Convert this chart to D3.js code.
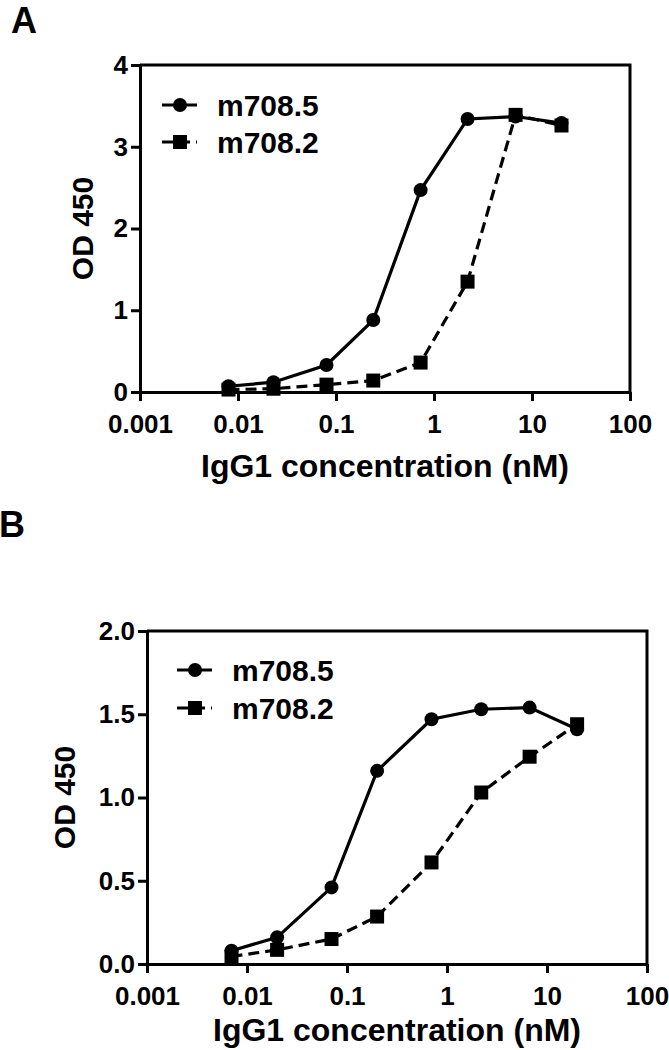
<!DOCTYPE html>
<html>
<head>
<meta charset="utf-8">
<script src="https://cdn.jsdelivr.net/npm/d3@7"></script>
<style>
  body { margin: 0; background: #fff; }
  svg { display: block; font-family: "Liberation Sans", Arial, sans-serif; font-weight: bold; }
</style>
</head>
<body>
<svg id="chart" width="669" height="1050"></svg>
<script>
// panel A
const concA = [0.008, 0.023, 0.08, 0.24, 0.73, 2.2, 6.8, 20];
const m7085A = [0.07, 0.12, 0.33, 0.88, 2.47, 3.34, 3.37, 3.29];
const m7082A = [0.03, 0.04, 0.09, 0.14, 0.36, 1.35, 3.39, 3.26];
const yTicksA = [0, 1, 2, 3, 4];

// panel B
const concB = [0.007, 0.02, 0.07, 0.2, 0.7, 2.2, 6.7, 20];
const m7085B = [0.08, 0.16, 0.46, 1.16, 1.47, 1.53, 1.54, 1.41];
const m7082B = [0.045, 0.085, 0.15, 0.285, 0.61, 1.03, 1.245, 1.44];
const yTicksB = [0, 0.5, 1.0, 1.5, 2.0];

const xTicks = [0.001, 0.01, 0.1, 1, 10, 100];
const seriesNames = ["m708.5", "m708.2"];

const svg = d3.select("#chart");

// panel letters
svg.append("text").attr("x", 11).attr("y", 33).style("font-size", "36px").text("A");
svg.append("text").attr("x", -1).attr("y", 537).style("font-size", "36px").text("B");

drawPanel({
    conc: concA, s1: m7085A, s2: m7082A, yTicks: yTicksA, yMax: 4, yFmt: d3.format("d"),
    left: 140, right: 630, top: 65, bottom: 392,
    yTitleX: 93, xTitleY: 477,
    legendX: 180, legendTextX: 217, legendY: [105, 142]
});

drawPanel({
    conc: concB, s1: m7085B, s2: m7082B, yTicks: yTicksB, yMax: 2, yFmt: d3.format(".1f"),
    left: 147, right: 647, top: 631, bottom: 964,
    yTitleX: 75, xTitleY: 1041,
    legendX: 195, legendTextX: 232, legendY: [670, 708]
});

function drawPanel(p) {
    const g = svg.append("g");

    const x = d3.scaleLog().domain([0.001, 100]).range([p.left, p.right]);
    const y = d3.scaleLinear().domain([0, p.yMax]).range([p.bottom, p.top]);

    // frame (top and right)
    g.append("path")
        .attr("d", `M${p.left},${p.top}H${p.right}V${p.bottom}`)
        .attr("fill", "none").attr("stroke", "#000").attr("stroke-width", 3);

    // axes
    const axisX = d3.axisBottom(x).tickValues(xTicks).tickFormat(d => String(d))
        .tickSize(9).tickSizeOuter(0).tickPadding(14);
    const gx = g.append("g").attr("transform", `translate(0,${p.bottom})`).call(axisX);

    const axisY = d3.axisLeft(y).tickValues(p.yTicks).tickFormat(p.yFmt)
        .tickSize(9).tickSizeOuter(0).tickPadding(3);
    const gy = g.append("g").attr("transform", `translate(${p.left},0)`).call(axisY);

    [gx, gy].forEach(a => {
        a.attr("font-family", null).attr("font-size", null);
        a.selectAll("path, line").attr("stroke", "#000").attr("stroke-width", 3);
        a.selectAll("text").attr("fill", "#000").style("font-size", "26px");
    });

    // axis titles
    g.append("text")
        .attr("transform", `translate(${p.yTitleX},${(p.top + p.bottom) / 2}) rotate(-90)`)
        .attr("text-anchor", "middle").style("font-size", "30px")
        .text("OD 450");
    g.append("text")
        .attr("x", (p.left + p.right) / 2).attr("y", p.xTitleY)
        .attr("text-anchor", "middle").style("font-size", "32px")
        .text("IgG1 concentration (nM)");

    const line = d3.line().x(d => x(d[0])).y(d => y(d[1]));
    const pts1 = p.conc.map((c, i) => [c, p.s1[i]]);
    const pts2 = p.conc.map((c, i) => [c, p.s2[i]]);

    // m708.5 - solid with circles
    g.append("path").datum(pts1).attr("d", line)
        .attr("fill", "none").attr("stroke", "#000").attr("stroke-width", 3.2);
    g.selectAll(".dot").data(pts1).enter().append("circle")
        .attr("cx", d => x(d[0])).attr("cy", d => y(d[1])).attr("r", 7).attr("fill", "#000");

    // m708.2 - dashed with squares
    g.append("path").datum(pts2).attr("d", line)
        .attr("fill", "none").attr("stroke", "#000").attr("stroke-width", 3.2)
        .attr("stroke-dasharray", "11,6");
    g.selectAll(".sq").data(pts2).enter().append("rect")
        .attr("x", d => x(d[0]) - 7).attr("y", d => y(d[1]) - 7)
        .attr("width", 14).attr("height", 14).attr("fill", "#000");

    // legend
    const lg = g.append("g");
    lg.append("line").attr("x1", p.legendX - 18).attr("x2", p.legendX + 17)
        .attr("y1", p.legendY[0]).attr("y2", p.legendY[0])
        .attr("stroke", "#000").attr("stroke-width", 3.2);
    lg.append("circle").attr("cx", p.legendX).attr("cy", p.legendY[0]).attr("r", 7);
    lg.append("line").attr("x1", p.legendX - 18).attr("x2", p.legendX + 17)
        .attr("y1", p.legendY[1]).attr("y2", p.legendY[1])
        .attr("stroke", "#000").attr("stroke-width", 3.2).attr("stroke-dasharray", "11,6");
    lg.append("rect").attr("x", p.legendX - 7).attr("y", p.legendY[1] - 7)
        .attr("width", 14).attr("height", 14);
    lg.selectAll("text").data(seriesNames).enter().append("text")
        .attr("x", p.legendTextX).attr("y", (d, i) => p.legendY[i] + 11)
        .style("font-size", "30px").text(d => d);
}
</script>
</body>
</html>
